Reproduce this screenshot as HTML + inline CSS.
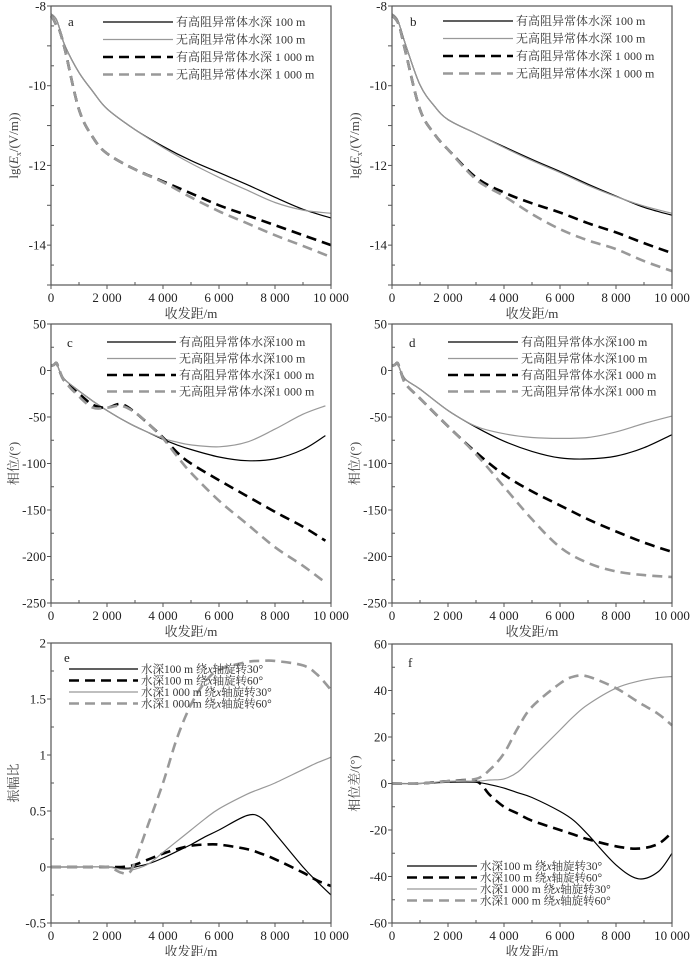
<!DOCTYPE html>
<html><head><meta charset="utf-8">
<style>
html,body{margin:0;padding:0;background:#fff;}
svg{display:block;}
text{font-family:"Liberation Serif","Noto Serif CJK SC",serif;}
</style></head>
<body>
<svg id="fig" width="700" height="956" viewBox="0 0 700 956" xmlns="http://www.w3.org/2000/svg"></svg>
<script>
// ---------- data ----------
const xA = [0,100,200,300,500,1000,1500,2000,3000,4000,5000,6000,7000,8000,9000,10000];
const a1 = [-8.2,-8.25,-8.35,-8.55,-9.0,-9.67,-10.15,-10.58,-11.1,-11.52,-11.88,-12.18,-12.48,-12.8,-13.1,-13.32];
const a2 = [-8.2,-8.25,-8.35,-8.55,-9.0,-9.67,-10.15,-10.58,-11.1,-11.55,-11.95,-12.3,-12.62,-12.93,-13.12,-13.2];
const a3 = [-8.25,-8.35,-8.5,-8.6,-9.1,-10.6,-11.3,-11.7,-12.1,-12.4,-12.7,-13.0,-13.25,-13.5,-13.75,-14.0];
const a4 = [-8.25,-8.35,-8.5,-8.6,-9.1,-10.6,-11.3,-11.7,-12.1,-12.42,-12.8,-13.15,-13.45,-13.75,-14.02,-14.3];

const xB = [0,100,200,300,500,1000,1500,2000,3000,4000,5000,6000,7000,8000,9000,10000];
const b1 = [-8.2,-8.25,-8.35,-8.55,-9.0,-9.98,-10.5,-10.85,-11.2,-11.53,-11.85,-12.15,-12.47,-12.77,-13.05,-13.25];
const b2 = [-8.2,-8.25,-8.35,-8.55,-9.0,-9.98,-10.5,-10.85,-11.2,-11.55,-11.88,-12.18,-12.5,-12.78,-13.02,-13.2];
const b3 = [-8.25,-8.3,-8.4,-8.6,-9.2,-10.6,-11.2,-11.6,-12.3,-12.68,-12.95,-13.18,-13.45,-13.68,-13.95,-14.2];
const b4 = [-8.25,-8.3,-8.4,-8.6,-9.2,-10.6,-11.2,-11.6,-12.35,-12.77,-13.22,-13.6,-13.88,-14.1,-14.4,-14.65];

const xC = [0,100,200,300,500,1000,1500,2000,2500,3000,3500,4000,4500,5000,6000,7000,8000,9000,9800];
const c1 = [5,6,8,0,-10,-22,-33,-43,-52,-60,-67,-74,-80,-85,-93,-97,-95,-85,-70];
const c2 = [5,6,8,0,-10,-22,-33,-43,-52,-60,-67,-73,-77,-80,-82,-77,-63,-47,-38];
const c3 = [5,6,8,0,-12,-25,-37,-40,-36,-45,-58,-72,-88,-100,-118,-135,-152,-168,-183];
const c4 = [5,6,8,0,-12,-28,-40,-40,-38,-45,-58,-73,-92,-110,-140,-165,-190,-210,-228];

const xD = [0,100,200,300,500,1000,2000,3000,4000,5000,6000,7000,8000,9000,10000];
const d1 = [5,6,8,0,-10,-20,-43,-61,-76,-87,-94,-95,-92,-83,-69];
const d2 = [5,6,8,0,-10,-20,-43,-60,-68,-72,-73,-72,-66,-57,-49];
const d3 = [5,6,8,0,-15,-30,-60,-88,-112,-130,-145,-160,-173,-185,-195];
const d4 = [5,6,8,0,-15,-30,-60,-90,-125,-160,-190,-207,-216,-220,-222];

const xE = [0,1000,2000,2500,2800,3000,3500,4000,4500,5000,5500,6000,7000,7500,8000,9000,9500,10000];
const e1 = [0,0,0,-0.01,-0.01,0,0.03,0.08,0.14,0.2,0.27,0.33,0.46,0.44,0.3,0.0,-0.13,-0.25];
const e2 = [0,0,0,0,0.01,0.02,0.07,0.12,0.16,0.19,0.2,0.2,0.16,0.12,0.07,-0.05,-0.12,-0.17];
const e3 = [0,0,0,-0.02,-0.02,-0.02,0.03,0.13,0.23,0.33,0.43,0.52,0.65,0.7,0.75,0.87,0.93,0.98];
const e4 = [0,0,0,-0.05,-0.05,0.05,0.4,0.75,1.15,1.45,1.65,1.76,1.83,1.84,1.84,1.8,1.72,1.58];

const xF = [0,1000,2000,3000,3500,4000,4500,5000,6000,6500,7000,8000,8800,9500,10000];
const f1 = [0,0,0.5,0.5,-0.5,-2,-4,-6,-12,-16,-22,-35,-41,-38,-30];
const f2 = [0,0,1,1,-5,-10,-13,-16,-20,-22,-24,-27,-28,-26,-21];
const f3 = [0,0,1,1,1.5,2,5,11,23,29,34,41,44,45.5,46];
const f4 = [0,0,1,2,6,13,24,33,43,46,46,41,35,30,25];

const xTicks = [0,2000,4000,6000,8000,10000];
const xTickLabels = ["0","2 000","4 000","6 000","8 000","10 000"];
const legAB = ["有高阻异常体水深 100 m","无高阻异常体水深 100 m","有高阻异常体水深 1 000 m","无高阻异常体水深 1 000 m"];
const legCD = ["有高阻异常体水深100 m","无高阻异常体水深100 m","有高阻异常体水深1 000 m","无高阻异常体水深1 000 m"];
const legEF = ["水深100 m 绕<tspan font-style='italic'>x</tspan>轴旋转30°","水深100 m 绕<tspan font-style='italic'>x</tspan>轴旋转60°","水深1 000 m 绕<tspan font-style='italic'>x</tspan>轴旋转30°","水深1 000 m 绕<tspan font-style='italic'>x</tspan>轴旋转60°"];

// ---------- drawing ----------
const NS = "http://www.w3.org/2000/svg";
const svg = document.getElementById("fig");
function mk(tag, attrs, parent){
  const e = document.createElementNS(NS, tag);
  for (const k in attrs) e.setAttribute(k, attrs[k]);
  (parent||svg).appendChild(e);
  return e;
}
const S_BS = {stroke:"#000", w:1.2, dash:null};
const S_GS = {stroke:"#999", w:1.2, dash:null};
const S_BD = {stroke:"#000", w:2.6, dash:"10,6"};
const S_GD = {stroke:"#999", w:2.6, dash:"10,6"};
const stylesTop = [S_BS, S_GS, S_BD, S_GD];
const stylesBot = [S_BS, S_BD, S_GS, S_GD];
function smoothPath(pts){
  let d = "M" + pts[0][0].toFixed(1) + "," + pts[0][1].toFixed(1);
  for (let i=0;i<pts.length-1;i++){
    const p0=pts[Math.max(0,i-1)], p1=pts[i], p2=pts[i+1], p3=pts[Math.min(pts.length-1,i+2)];
    const c1x=p1[0]+(p2[0]-p0[0])/6, c1y=p1[1]+(p2[1]-p0[1])/6;
    const c2x=p2[0]-(p3[0]-p1[0])/6, c2y=p2[1]-(p3[1]-p1[1])/6;
    d += " C"+c1x.toFixed(1)+","+c1y.toFixed(1)+" "+c2x.toFixed(1)+","+c2y.toFixed(1)+" "+p2[0].toFixed(1)+","+p2[1].toFixed(1);
  }
  return d;
}
function panel(cfg){
  const styles = cfg.styles;
  const g = mk("g", {});
  
  
  const X = v => cfg.x0 + (v/10000)*(cfg.x1-cfg.x0);
  const Y = v => cfg.y1 - (v-cfg.ymin)/(cfg.ymax-cfg.ymin)*(cfg.y1-cfg.y0);
  cfg.series.forEach((s,i)=>{
    const pts = cfg.xs.map((xv,j)=>[X(xv), Y(s[j])]);
    const p = mk("path", {d:smoothPath(pts), fill:"none", stroke:styles[i].stroke, "stroke-width":styles[i].w}, g);
    if (styles[i].dash) p.setAttribute("stroke-dasharray", styles[i].dash);
    
    
  });
  const fr = mk("rect", {x:cfg.x0, y:cfg.y0, width:cfg.x1-cfg.x0, height:cfg.y1-cfg.y0, fill:"none", stroke:"#555", "stroke-width":1.2}, g);
  
  
  for (let v=0; v<=10000; v+=1000){
    const major = v%2000===0;
    mk("line", {x1:X(v), x2:X(v), y1:cfg.y1, y2:cfg.y1+(major?4:-3), stroke:"#555", "stroke-width":1}, g);
  }
  xTicks.forEach((v,i)=>{
    const t = mk("text", {x:X(v), y:cfg.y1+17, "font-size":13, "text-anchor":"middle", fill:"#222"}, g);
    t.textContent = xTickLabels[i];
    
    
  });
  const nMaj = Math.round((cfg.ymax-cfg.ymin)/cfg.ystep);
  for (let k=0;k<=nMaj;k++){
    const v = cfg.ymin + k*cfg.ystep;
    mk("line", {x1:cfg.x0-4, x2:cfg.x0, y1:Y(v), y2:Y(v), stroke:"#555", "stroke-width":1}, g);
    if (k<nMaj) mk("line", {x1:cfg.x0, x2:cfg.x0+3, y1:Y(v+cfg.ystep/2), y2:Y(v+cfg.ystep/2), stroke:"#555", "stroke-width":1}, g);
    const t = mk("text", {x:cfg.x0-5, y:Y(v)+4.5, "font-size":13, "text-anchor":"end", fill:"#222"}, g);
    t.textContent = cfg.yfmt(v);
    
    
  }
  const xt = mk("text", {x:(cfg.x0+cfg.x1)/2, y:cfg.y1+33, "font-size":13, "text-anchor":"middle", fill:"#333"}, g);
  xt.textContent = "收发距/m";
  
  
  const yt = mk("text", {x:0, y:0, "font-size":13, "text-anchor":"middle", fill:"#444",
    transform:"translate("+(cfg.x0-33)+","+((cfg.y0+cfg.y1)/2)+") rotate(-90)"}, g);
  yt.innerHTML = cfg.ytitle;
  
  
  const pl = mk("text", {x:cfg.lab[0], y:cfg.lab[1], "font-size":13, fill:"#222"}, g);
  pl.textContent = cfg.label;
  
  
  cfg.legend.forEach((txt,i)=>{
    const ly = cfg.leg.y + i*cfg.leg.dy;
    const ln = mk("line", {x1:cfg.leg.x1, x2:cfg.leg.x2, y1:ly, y2:ly, stroke:styles[i].stroke, "stroke-width":styles[i].w}, g);
    if (styles[i].dash) ln.setAttribute("stroke-dasharray", styles[i].dash);
    
    
    const t = mk("text", {x:cfg.leg.x2+3, y:ly+4, "font-size":cfg.leg.fs, fill:"#333"}, g);
    t.innerHTML = txt;
    
    
  });
}
const intFmt = v => String(Math.round(v));
const eTitle = 'lg(<tspan font-style="italic">E</tspan><tspan font-size="8" dy="3">x</tspan><tspan dy="-3">/(V/m))</tspan>';
panel({label:"a", styles:stylesTop, x0:51, x1:331, y0:6, y1:285, ymin:-15, ymax:-8, ystep:1, yfmt:v=>(Math.round(v)%2===0?intFmt(v):""),
  xs:xA, series:[a1,a2,a3,a4], ytitle:eTitle, lab:[68,26], legend:legAB, leg:{x1:103,x2:173,y:22,dy:17.5,fs:12}});
panel({label:"b", styles:stylesTop, x0:392, x1:672, y0:6, y1:285, ymin:-15, ymax:-8, ystep:1, yfmt:v=>(Math.round(v)%2===0?intFmt(v):""),
  xs:xB, series:[b1,b2,b3,b4], ytitle:eTitle, lab:[410,26], legend:legAB, leg:{x1:443,x2:513,y:21,dy:17.5,fs:12}});
panel({label:"c", styles:stylesTop, x0:51, x1:331, y0:324, y1:603, ymin:-250, ymax:50, ystep:50, yfmt:intFmt,
  xs:xC, series:[c1,c2,c3,c4], ytitle:"相位/(°)", lab:[67,347], legend:legCD, leg:{x1:107,x2:176,y:342,dy:16.5,fs:12}});
panel({label:"d", styles:stylesTop, x0:392, x1:672, y0:324, y1:603, ymin:-250, ymax:50, ystep:50, yfmt:intFmt,
  xs:xD, series:[d1,d2,d3,d4], ytitle:"相位/(°)", lab:[409,347], legend:legCD, leg:{x1:448,x2:518,y:342,dy:16.5,fs:12}});
panel({label:"e", styles:stylesBot, x0:51, x1:331, y0:643, y1:923, ymin:-0.5, ymax:2, ystep:0.5, yfmt:v=>String(Math.round(v*10)/10),
  xs:xE, series:[e1,e2,e3,e4], ytitle:"振幅比", lab:[64,662], legend:legEF, leg:{x1:69,x2:138,y:669,dy:11.5,fs:11.5}});
panel({label:"f", styles:stylesBot, x0:392, x1:672, y0:644, y1:923, ymin:-60, ymax:60, ystep:20, yfmt:intFmt,
  xs:xF, series:[f1,f2,f3,f4], ytitle:"相位差/(°)", lab:[408,667], legend:legEF, leg:{x1:407,x2:477,y:866,dy:11.5,fs:11.5}});
</script>
</body></html>
